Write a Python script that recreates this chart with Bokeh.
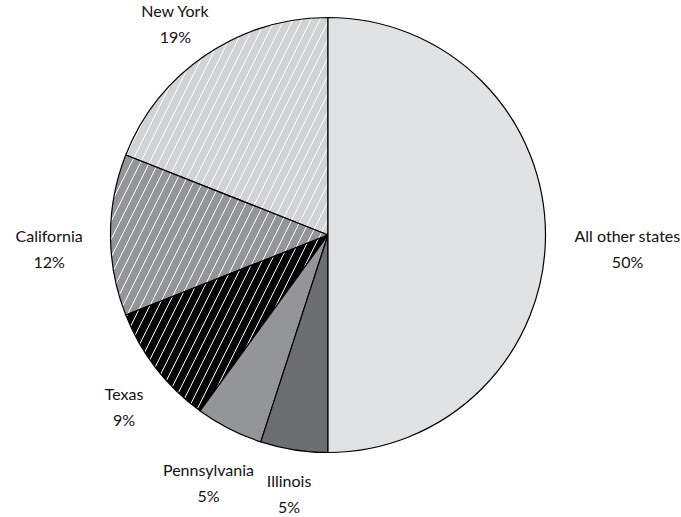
import math
from bokeh.plotting import figure
from bokeh.models import Range1d, ColumnDataSource
from bokeh.core.properties import value
from bokeh.embed import file_html
from bokeh.resources import INLINE

states = ["New York", "California", "Texas", "Pennsylvania", "Illinois", "All other states"]
shares = [19, 12, 9, 5, 5, 50]
fills = ["#d1d3d4", "#939598", "#000000", "#939598", "#6d6e71", "#e1e2e3"]
hatches = ["/", "/", "/", " ", " ", " "]

W, H = 681, 517
p = figure(width=W, height=H, output_backend="svg", toolbar_location=None,
           x_range=Range1d(0, W), y_range=Range1d(0, H), min_border=0)
p.axis.visible = False
p.grid.visible = False
p.outline_line_color = None
p.background_fill_color = "white"
p.border_fill_color = "white"

cx, cy, R = 327.5, H - 234.5, 217.5
total = sum(shares)
starts, ends, mids = [], [], []
a = math.pi / 2
for s in shares:
    da = 2 * math.pi * s / total
    starts.append(a)
    ends.append(a + da)
    mids.append(a + da / 2)
    a += da

src = ColumnDataSource(dict(x=[cx] * len(states), y=[cy] * len(states),
                            start=starts, end=ends, fill=fills, hatch=hatches))
p.wedge(x="x", y="y", radius=R, start_angle="start", end_angle="end",
        direction="anticlock", fill_color="fill", line_color="black", line_width=1.2,
        hatch_pattern="hatch", hatch_color="white", hatch_scale=18, hatch_weight=1,
        source=src)

fs = 16
gap = 26
nx, ny, px, py, pct = [], [], [], [], []
for st, sh, m in zip(states, shares, mids):
    w = len(st) * 0.43 * fs
    c, s = math.cos(m), math.sin(m)
    r = R + 27 + abs(c) * w / 2 + max(s, 0) * 14
    x = cx + c * r
    y = cy + s * r
    nx.append(x)
    ny.append(y)
    px.append(x)
    py.append(y - gap)
    pct.append(f"{sh}%")

common = dict(text_align="center", text_baseline="middle",
              text_font=value("Lato"), text_font_size=f"{fs}px", text_color="#111111")
p.text(x=nx, y=ny, text=states, **common)
p.text(x=px, y=py, text=pct, **common)

open("out.html", "w").write(file_html(p, INLINE))
